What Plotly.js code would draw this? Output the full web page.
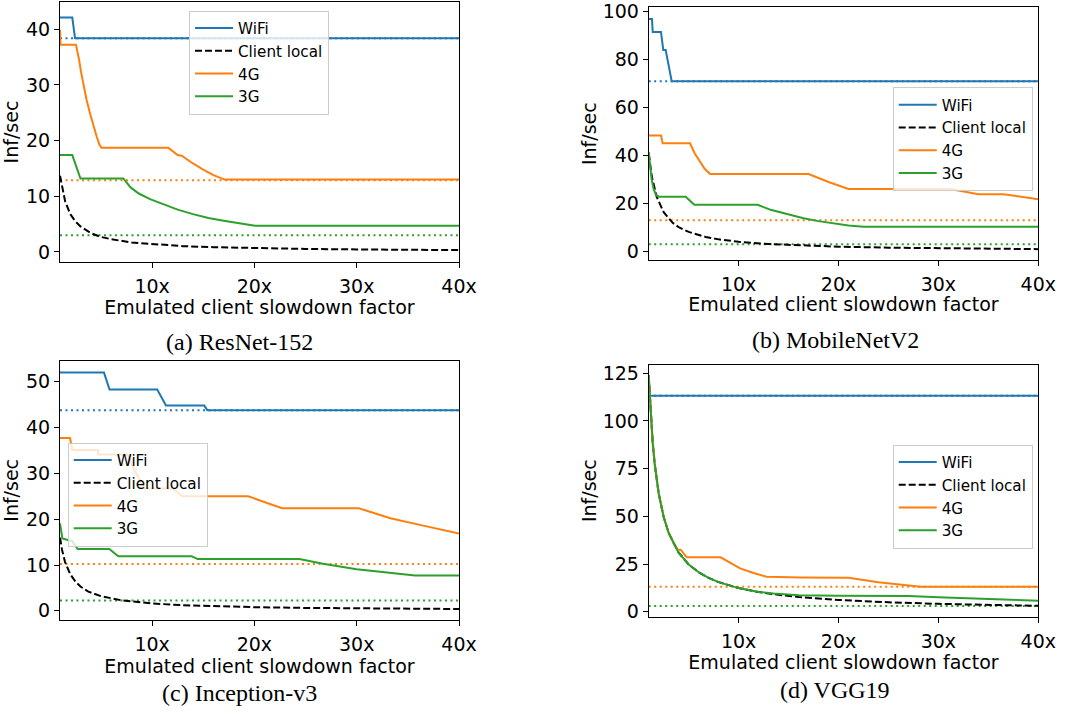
<!DOCTYPE html>
<html>
<head>
<meta charset="utf-8">
<script src="https://cdn.plot.ly/plotly-3.0.1.min.js"></script>
<style>html,body{margin:0;padding:0;background:#fff;}#chart{width:1069px;height:717px;}</style>
</head>
<body>
<div id="chart"></div>
<script>
// ---------- tick labels ----------
const xTickVals = [10, 20, 30, 40];
const xTickText = ['10x', '20x', '30x', '40x'];
const seriesNames = ['WiFi', 'Client local', '4G', '3G'];
const captions = ['(a) ResNet-152', '(b) MobileNetV2', '(c) Inception-v3', '(d) VGG19'];
const refX = [1, 40];

// ---------- (a) ResNet-152 ----------
const resnetWifiX = [1, 2.2, 2.47, 40];
const resnetWifiY = [42.1, 42.1, 38.4, 38.4];
const resnetLocalX = [1, 1.5, 2, 2.5, 3, 4, 5, 6, 8, 10, 13, 16, 20, 25, 30, 35, 40];
const resnetLocalY = [13.7, 9.1, 6.8, 5.5, 4.6, 3.4, 2.7, 2.3, 1.7, 1.4, 1.05, 0.86, 0.69, 0.55, 0.46, 0.39, 0.34];
const resnet4gX = [1, 1.05, 2.56, 2.7, 2.86, 3.05, 3.28, 3.6, 3.93, 4.25, 4.59, 4.85, 5.05, 11.6, 12.5, 12.9, 14.0, 15.0, 16.0, 17.1, 40];
const resnet4gY = [39.9, 37.2, 37.2, 36.2, 34.6, 32.4, 30.2, 27.3, 24.9, 22.7, 20.7, 19.3, 18.7, 18.7, 17.4, 17.3, 15.9, 14.8, 13.8, 13.0, 13.0];
const resnet3gX = [1, 2.2, 3.0, 7.19, 7.9, 8.7, 9.8, 11, 12.5, 14, 15.5, 17, 18.5, 20.06, 40];
const resnet3gY = [17.4, 17.4, 13.2, 13.2, 11.6, 10.5, 9.5, 8.6, 7.6, 6.8, 6.1, 5.6, 5.1, 4.7, 4.7];
const resnetRef = [38.4, 12.9, 3.0]; // WiFi, 4G, 3G (dotted)

// ---------- (b) MobileNetV2 ----------
const mobileWifiX = [1, 1.33, 1.4, 2.23, 2.46, 2.7, 3.3, 40];
const mobileWifiY = [96.9, 96.9, 91.5, 91.5, 84, 84, 71, 71];
const mobileLocalX = [1, 1.3, 1.8, 2.5, 3.4, 4, 5, 6.7, 8, 10, 13, 16, 20, 25, 30, 35, 40];
const mobileLocalY = [41, 31.5, 22.8, 16.4, 12, 10.2, 8.2, 6.1, 5.1, 4.1, 3.15, 2.56, 2.05, 1.64, 1.37, 1.17, 1.03];
const mobile4gX = [1, 2.23, 2.4, 5.14, 5.6, 6.14, 6.6, 7.14, 17.0, 19, 21.0, 31.2, 34.0, 36.5, 40];
const mobile4gY = [48.4, 48.4, 45.1, 45.1, 41.0, 37.5, 34.5, 32.3, 32.3, 29, 26.1, 26.1, 23.9, 23.9, 21.8];
const mobile3gX = [1, 1.15, 1.3, 1.5, 1.73, 2.0, 4.7, 5.57, 11.9, 13.2, 15, 16.5, 18, 19.8, 21, 22.5, 40];
const mobile3gY = [41.5, 35, 29.9, 26, 23.6, 22.9, 22.9, 19.5, 19.5, 17.4, 15.4, 13.9, 12.7, 11.5, 10.9, 10.4, 10.4];
const mobileRef = [71, 13.1, 3.1];

// ---------- (c) Inception-v3 ----------
const inceptionWifiX = [1, 5.3, 5.84, 10.5, 11.36, 15.1, 15.4, 40];
const inceptionWifiY = [52, 52, 48.3, 48.3, 44.8, 44.8, 43.8, 43.8];
const inceptionLocalX = [1, 1.2, 1.49, 2, 2.47, 3, 3.77, 5, 7, 10, 13, 16, 20, 25, 30, 35, 40];
const inceptionLocalY = [16, 13.3, 10.7, 8, 6.5, 5.3, 4.2, 3.2, 2.3, 1.6, 1.23, 1.0, 0.8, 0.64, 0.53, 0.46, 0.4];
const inception4gX = [1, 1.98, 2.2, 4.7, 4.75, 7.6, 8.3, 9.3, 12.0, 12.97, 19.4, 22.7, 30.2, 33.3, 36.5, 40];
const inception4gY = [37.7, 37.7, 35.1, 35.1, 34.1, 34.1, 30.5, 26.7, 26.7, 25.0, 25.0, 22.4, 22.4, 20.2, 18.6, 16.9];
const inception3gX = [1, 1.23, 2.2, 2.73, 5.82, 6.7, 13.87, 14.46, 24.4, 26.7, 30.0, 33, 35.7, 40];
const inception3gY = [19.1, 15.8, 15.2, 13.5, 13.5, 11.9, 11.9, 11.3, 11.3, 10.3, 9.1, 8.3, 7.7, 7.7];
const inceptionRef = [43.8, 10.2, 2.25];

// ---------- (d) VGG19 ----------
const vggWifiX = [1, 40];
const vggWifiY = [113.2, 113.2];
const vggLocalX = [1, 1.2, 1.4, 1.6, 1.8, 2, 2.5, 3, 3.5, 4, 5, 6, 7, 8, 10, 12, 14, 16, 20, 25, 30, 35, 40];
const vggLocalY = [124, 103, 88.6, 77.5, 68.9, 62, 49.6, 41.3, 36, 31, 24.8, 20.7, 17.7, 15.5, 12.4, 10.3, 8.86, 7.75, 6.2, 4.96, 4.13, 3.54, 3.1];
const vgg4gX = [1, 1.2, 1.4, 1.6, 1.8, 2, 2.5, 3, 3.5, 3.9, 4.2, 4.8, 8.2, 9, 10.15, 11.5, 12.8, 16.2, 21.0, 24, 26, 28.2, 40];
const vgg4gY = [124, 103, 88.6, 77.5, 68.9, 62, 49.6, 41.3, 36, 32.5, 32.5, 28.5, 28.5, 26, 22.7, 20.3, 18.3, 17.9, 17.8, 15.5, 14.2, 13.1, 13.1];
const vgg3gX = [1, 1.2, 1.4, 1.6, 1.8, 2, 2.5, 3, 3.5, 4, 5, 6, 7, 8, 10, 12, 13.5, 16, 20, 27, 30, 35, 40];
const vgg3gY = [124, 103, 88.6, 77.5, 68.9, 62, 49.6, 41.3, 36, 31, 24.8, 20.7, 17.7, 15.5, 12.4, 10.4, 9.6, 8.6, 8.4, 8.3, 7.6, 6.6, 5.8];
const vggRef = [113.2, 13.1, 3.0];

// ---------- styling ----------
const BLUE = '#1f77b4', ORANGE = '#ff7f0e', GREEN = '#2ca02c', BLACK = '#000000';
const FONT = 'DejaVu Sans';
const LW = 2;
const DOT = '2px,3.5px';
const DASH = '7px,3px';

const panels = [
  {w: [resnetWifiX, resnetWifiY], c: [resnetLocalX, resnetLocalY], g4: [resnet4gX, resnet4gY], g3: [resnet3gX, resnet3gY], ref: resnetRef,
   xd: [60/1069, 459/1069], yd: [1-262/717, 1-2/717], yr: [-1.8, 44.9], dt: 10, ys: 6, xt: 301.5,
   leg: {x: 189/1069, y: 1-10.7/717}},
  {w: [mobileWifiX, mobileWifiY], c: [mobileLocalX, mobileLocalY], g4: [mobile4gX, mobile4gY], g3: [mobile3gX, mobile3gY], ref: mobileRef,
   xd: [648.7/1069, 1038.3/1069], yd: [1-260/717, 1-7.3/717], yr: [-3.5, 101.8], dt: 20, ys: 0, xt: 298.3,
   leg: {x: 892.7/1069, y: 1-87.3/717}},
  {w: [inceptionWifiX, inceptionWifiY], c: [inceptionLocalX, inceptionLocalY], g4: [inception4gX, inception4gY], g3: [inception3gX, inception3gY], ref: inceptionRef,
   xd: [60/1069, 459/1069], yd: [1-620/717, 1-360.7/717], yr: [-2.0, 54.6], dt: 10, ys: 6, xt: 660.5,
   leg: {x: 67.7/1069, y: 1-442.7/717}},
  {w: [vggWifiX, vggWifiY], c: [vggLocalX, vggLocalY], g4: [vgg4gX, vgg4gY], g3: [vgg3gX, vgg3gY], ref: vggRef,
   xd: [648.7/1069, 1038.3/1069], yd: [1-616.7/717, 1-364.7/717], yr: [-2.6, 129.5], dt: 25, ys: 0, xt: 656.5,
   leg: {x: 892.7/1069, y: 1-444.7/717}}
];

const traces = [];
const layout = {
  width: 1069, height: 717,
  margin: {l: 0, r: 0, t: 0, b: 0},
  paper_bgcolor: '#ffffff', plot_bgcolor: '#ffffff',
  font: {family: FONT, color: '#000', size: 19},
  showlegend: true,
  annotations: []
};
const capPos = [[239, 342], [835, 340], [239, 693], [835, 690]];

panels.forEach((p, i) => {
  const n = i === 0 ? '' : String(i + 1);
  const xa = 'x' + n, ya = 'y' + n, lg = 'legend' + n;
  const refColors = [BLUE, ORANGE, GREEN];
  p.ref.forEach((v, k) => {
    traces.push({x: refX, y: [v, v], xaxis: xa, yaxis: ya, mode: 'lines', showlegend: false, hoverinfo: 'skip',
      line: {color: refColors[k], width: LW, dash: DOT}});
  });
  const series = [[p.w, BLUE, 'solid'], [p.c, BLACK, DASH], [p.g4, ORANGE, 'solid'], [p.g3, GREEN, 'solid']];
  series.forEach((s, k) => {
    traces.push({x: s[0][0], y: s[0][1], name: seriesNames[k], xaxis: xa, yaxis: ya, legend: lg, mode: 'lines',
      line: {color: s[1], width: LW, dash: s[2]}});
  });
  layout['xaxis' + n] = {
    domain: p.xd, anchor: ya, range: [1, 40], tickvals: xTickVals, ticktext: xTickText,
    showgrid: false, zeroline: false, showline: true, mirror: true, linecolor: '#000', linewidth: 1,
    ticks: 'outside', ticklen: 5, tickcolor: '#000', ticklabelstandoff: 2,
    tickfont: {family: FONT, size: 19, color: '#000'},
    title: {text: 'Emulated client slowdown factor', font: {family: FONT, size: 19, color: '#000'}, standoff: 0}
  };
  layout['yaxis' + n] = {
    domain: p.yd, anchor: xa, range: p.yr, dtick: p.dt, tick0: 0,
    showgrid: false, zeroline: false, showline: true, mirror: true, linecolor: '#000', linewidth: 1,
    ticks: 'outside', ticklen: 5, tickcolor: '#000', tickfont: {family: FONT, size: 19, color: '#000'},
    title: {text: 'Inf/sec', font: {family: FONT, size: 19, color: '#000'}, standoff: p.ys}
  };
  layout[lg] = {
    x: p.leg.x, y: p.leg.y, xanchor: 'left', yanchor: 'top',
    bgcolor: 'rgba(255,255,255,0.8)', bordercolor: '#cccccc', borderwidth: 1,
    font: {family: FONT, size: 15.2, color: '#000'}, traceorder: 'normal', itemwidth: 38
  };
  layout.annotations.push({
    text: captions[i], xref: 'paper', yref: 'paper', x: capPos[i][0]/1069, y: 1 - capPos[i][1]/717,
    xanchor: 'center', yanchor: 'middle', showarrow: false,
    font: {family: 'Liberation Serif', size: 24, color: '#000'}
  });
});

Plotly.newPlot('chart', traces, layout, {displayModeBar: false, staticPlot: true}).then(gd => {
  // fine-tune the vertical placement of the x-axis titles to match the reference layout
  ['xtitle', 'x2title', 'x3title', 'x4title'].forEach((cls, i) => {
    const el = gd.querySelector('text.' + cls);
    if (!el) return;
    const bb = el.getBBox();
    const glyphCenter = bb.y + 0.797 * bb.height - 7.2;
    const delta = panels[i].xt - glyphCenter;
    const y0 = parseFloat(el.getAttribute('y')) || 0;
    el.setAttribute('y', y0 + delta);
  });
});
</script>
</body>
</html>
